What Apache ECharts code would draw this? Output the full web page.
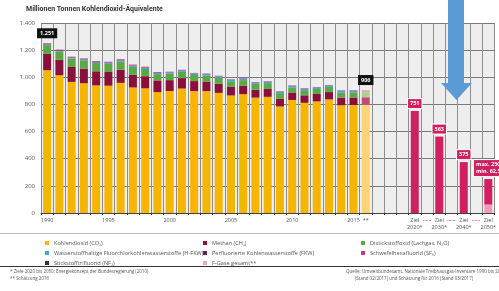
<!DOCTYPE html>
<html>
<head>
<meta charset="utf-8">
<script src="https://cdn.jsdelivr.net/npm/echarts@6/dist/echarts.min.js"></script>
<style>
  html, body { margin: 0; padding: 0; background: #fff; }
  #chart { width: 499px; height: 291px; }
</style>
</head>
<body>
<div id="chart"></div>
<script>
// Kategorien: 1990-2016, drei leere Spalten, dann Ziele mit Lücken dazwischen
var categories = ['1990','1991','1992','1993','1994','1995','1996','1997','1998','1999',
  '2000','2001','2002','2003','2004','2005','2006','2007','2008','2009',
  '2010','2011','2012','2013','2014','2015','2016',
  'leer1','leer2','leer3','Ziel 2020','p1','Ziel 2030','p2','Ziel 2040','p3','Ziel 2050'];

var tickLabels = ['1990','','','','','1995','','','','',
  '2000','','','','','2005','','','','',
  '2010','','','','','2015','**',
  '','','','Ziel\n2020*','{d|······}','Ziel\n2030*','{d|······}','Ziel\n2040*','{d|······}','Ziel\n2050*'];

// Mio. t CO2-Äquivalente, 1990..2016 (2016 Schätzung)
var co2  = [1052,1015,966,957,940,938,959,925,919,891,899,917,898,898,885,866,876,850,856,785,833,812,822,837,794,796,798];
var ch4  = [120,114,110,107,104,101,97,93,89,86,80,77,74,71,67,63,61,58,58,56,55,55,55,54,56,55,55];
var n2o  = [65,62,63,61,61,60,60,59,53,46,47,46,45,43,44,42,42,43,43,42,37,38,37,38,38,38,38];
var hfkw = [6,5,5,6,6,7,8,8,9,9,9,10,10,11,11,11,11,11,11,11,11,11,11,11,11,11,'-'];
var fkw  = [3.2,2.9,2.5,2.2,2.1,1.8,1.9,1.6,1.3,1.1,0.9,0.8,0.8,0.7,0.6,0.6,0.6,0.5,0.5,0.4,0.3,0.3,0.3,0.2,0.2,0.2,'-'];
var sf6  = [4.4,4.8,5.3,5.8,6.3,6.7,6.9,6.8,6.6,5.6,5.1,4.6,4.1,3.7,3.6,3.4,3.5,3.3,3.2,3.1,3.2,3.3,3.4,3.5,4.0,4.1,'-'];
var nf3  = [0.01,0.01,0.01,0.01,0.01,0.01,0.01,0.01,0.01,0.01,0.01,0.01,0.02,0.02,0.02,0.03,0.03,0.03,0.04,0.04,0.05,0.05,0.06,0.06,0.07,0.07,'-'];
var fGesamt = ['-','-','-','-','-','-','-','-','-','-','-','-','-','-','-','-','-','-','-','-','-','-','-','-','-','-',15];

// Ziele (Energiekonzept 2010)
var zielCats = ['Ziel 2020','Ziel 2030','Ziel 2040','Ziel 2050'];
var zielMax = [751, 563, 375, 250];
var zielMin = [0, 0, 0, 62.5];
var zielLabels = ['751', '563', '375', 'max. 250\nmin. 62,5'];

var FONT = "'Open Sans', 'DejaVu Sans', sans-serif";

function pad(arr) {
  var out = arr.slice();
  while (out.length < categories.length) out.push('-');
  return out;
}
function deNum(v) {
  return String(v).replace(/\B(?=(\d{3})+(?!\d))/g, '.');
}
var stackArrays = [co2, ch4, n2o, hfkw, fkw, sf6, nf3, fGesamt];
function totalAt(i) {
  var s = 0;
  stackArrays.forEach(function (a) { if (typeof a[i] === 'number') s += a[i]; });
  return Math.round(s);
}
var totalLabel = {
  show: true, position: 'top', distance: 5,
  backgroundColor: '#111', color: '#fff', fontWeight: 'bold', fontSize: 5.5,
  fontFamily: FONT, padding: [2, 3],
  formatter: function (p) { return deNum(totalAt(p.dataIndex)); }
};
// hellere Farben für das Schätzjahr 2016
function withEstimate(arr, light) {
  return pad(arr).map(function (v, i) {
    return i === 26 ? { value: v, itemStyle: { color: light } } : v;
  });
}
function labelOn(arr, idx) {
  return pad(arr).map(function (v, i) {
    return i === idx ? { value: v, label: totalLabel } : v;
  });
}

var zielLower = categories.map(function () { return '-'; });
var zielUpper = categories.map(function () { return '-'; });
zielCats.forEach(function (c, k) {
  var i = categories.indexOf(c);
  if (zielMin[k] > 0) zielLower[i] = zielMin[k];
  zielUpper[i] = { value: zielMax[k] - zielMin[k], zielIdx: k };
});

var myChart = echarts.init(document.getElementById('chart'));

var barW = 8;
function bar(name, color, data) {
  return { name: name, type: 'bar', stack: 'total', barWidth: barW, itemStyle: { color: color }, data: data };
}

var legendText = { fontSize: 5.6, color: '#555', fontFamily: FONT, lineHeight: 6 };
function legendCol(left, items) {
  return {
    orient: 'vertical', left: left, top: 240, padding: 0, itemWidth: 4, itemHeight: 4, itemGap: 4,
    icon: 'rect', selectedMode: false, textStyle: legendText, data: items
  };
}

var option = {
  animation: false,
  title: {
    text: 'Millionen Tonnen Kohlendioxid-Äquivalente',
    left: 26, top: 6, padding: 0,
    textStyle: { fontSize: 7, fontWeight: 'bold', color: '#333', fontFamily: "'Liberation Sans Narrow', 'Roboto', sans-serif" }
  },
  legend: [
    legendCol(45, ['Kohlendioxid (CO₂)', 'Wasserstoffhaltige Fluorchlorkohlenwasserstoffe (H-FKW)', 'Stickstofftrifluorid (NF₃)']),
    legendCol(203, ['Methan (CH₄)', 'Perfluorierte Kohlenwasserstoffe (FKW)', 'F-Gase gesamt**']),
    legendCol(361, ['Distickstoffoxid (Lachgas, N₂O)', 'Schwefelhexafluorid (SF₆)'])
  ],
  grid: {
    left: 41, top: 23, width: 460, height: 190,
    show: true, backgroundColor: '#eeeeee', borderWidth: 0
  },
  xAxis: {
    type: 'category',
    data: categories,
    axisLine: { lineStyle: { color: '#444', width: 1 } },
    axisTick: { show: true, interval: 0, length: 2, lineStyle: { color: '#1f2a5a' } },
    splitLine: { show: true, interval: 0, lineStyle: { color: '#8d8d8d', width: 1 } },
    axisLabel: {
      interval: 0, margin: 4, fontSize: 5.5, color: '#555', fontFamily: FONT,
      lineHeight: 7, verticalAlign: 'top',
      formatter: function (v, i) { return tickLabels[i]; },
      rich: { d: { color: '#d21f5f', fontSize: 5, fontWeight: 'bold' } }
    }
  },
  yAxis: {
    type: 'value', min: 0, max: 1400, interval: 200,
    axisLine: { show: false }, axisTick: { show: false },
    splitLine: { lineStyle: { color: '#7a7a7a', width: 1 } },
    axisLabel: {
      margin: 6, fontSize: 6, color: '#555', fontFamily: FONT,
      formatter: function (v) { return deNum(v); }
    }
  },
  series: [
    bar('Kohlendioxid (CO₂)', '#f6b500', withEstimate(co2, '#fcd572')),
    bar('Methan (CH₄)', '#8a0f3a', withEstimate(ch4, '#c24a72')),
    bar('Distickstoffoxid (Lachgas, N₂O)', '#5aa947', withEstimate(n2o, '#a6d48c')),
    bar('Wasserstoffhaltige Fluorchlorkohlenwasserstoffe (H-FKW)', '#49a3d4', pad(hfkw)),
    bar('Perfluorierte Kohlenwasserstoffe (FKW)', '#6b1c5c', pad(fkw)),
    bar('Schwefelhexafluorid (SF₆)', '#c2378a', pad(sf6)),
    bar('Stickstofftrifluorid (NF₃)', '#1d3d47', labelOn(nf3, 0)),
    bar('F-Gase gesamt**', '#eba7bf', labelOn(fGesamt, 26)),
    bar('Ziel min', '#f29bbb', zielLower),
    {
      name: 'Ziel', type: 'bar', stack: 'total', barWidth: barW,
      itemStyle: { color: '#d21f5f' },
      label: {
        show: true, position: 'top', distance: 3,
        backgroundColor: '#d21f5f', borderColor: '#fff', borderWidth: 1,
        color: '#fff', fontWeight: 'bold', fontSize: 5.5, fontFamily: FONT,
        padding: [1, 2], lineHeight: 7, align: 'center',
        formatter: function (p) { return zielLabels[p.data.zielIdx]; }
      },
      data: zielUpper
    }
  ],
  graphic: [
    {
      type: 'polygon', z: 100,
      shape: { points: [[448, 0], [464, 0], [464, 83], [472, 83], [456.5, 100], [441, 83], [448, 83]] },
      style: { fill: '#5a9bd5' }
    },
    { type: 'line', shape: { x1: 0, y1: 233.5, x2: 499, y2: 233.5 }, style: { stroke: '#bbbbbb', lineWidth: 1 } },
    { type: 'line', shape: { x1: 0, y1: 266.5, x2: 499, y2: 266.5 }, style: { stroke: '#333333', lineWidth: 1 } },
    { type: 'text', left: 10, top: 269.5, style: { text: '* Ziele 2020 bis 2050: Energiekonzept der Bundesregierung (2010)', fontSize: 4.5, fill: '#555', fontFamily: FONT } },
    { type: 'text', left: 10, top: 276.5, style: { text: '** Schätzung 2016', fontSize: 4.5, fill: '#555', fontFamily: FONT } },
    { type: 'text', left: 346, top: 269.5, style: { text: 'Quelle: Umweltbundesamt, Nationale Treibhausgas-Inventare 1990 bis 2015', fontSize: 4.5, fill: '#555', fontFamily: FONT } },
    { type: 'text', left: 355, top: 276.5, style: { text: '(Stand 02/2017) und Schätzung für 2016 (Stand 03/2017)', fontSize: 4.5, fill: '#555', fontFamily: FONT } }
  ]
};

myChart.setOption(option);
</script>
</body>
</html>
